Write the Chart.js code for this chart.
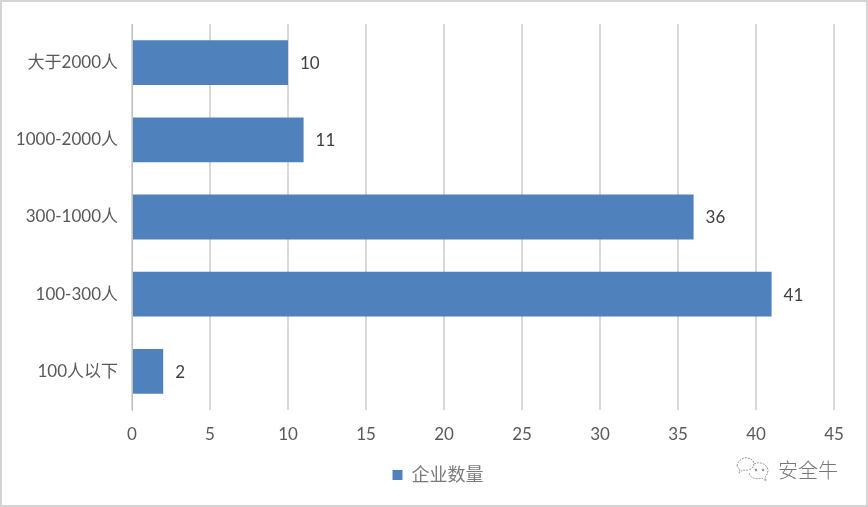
<!DOCTYPE html>
<html><head><meta charset="utf-8">
<script src="https://cdn.jsdelivr.net/npm/chart.js@4"></script>
<style>html,body{margin:0;padding:0;background:#fff}#w{position:relative;width:868px;height:507px;overflow:hidden}canvas{position:absolute;left:0;top:0}
#wm{position:absolute;left:778px;top:455px;font:300 20px/30px "Noto Sans CJK SC";color:#777;white-space:nowrap}
#ic{position:absolute;left:735px;top:456px}</style></head>
<body><div id="w"><canvas id="c" width="868" height="507"></canvas>
<svg id="ic" width="38" height="28" viewBox="0 0 38 28" fill="none" stroke="#999" stroke-width="1" stroke-dasharray="2 1"><path d="M2 10C3 4 8 1 13 2C18 3 20 7 18 11C16 14 11 15 8 14L4 17L5 13C3 12 2 11 2 10Z"/><path d="M19 8C25 5 32 8 33 14C33 18 31 20 30 21L31 25L27 22C22 24 15 22 14 17"/><circle cx="21" cy="14" r="1" fill="#777"/><circle cx="28" cy="14" r="1" fill="#777"/></svg>
<div id="wm">安全牛</div></div>
<script>
const categories=["大于2000人","1000-2000人","300-1000人","100-300人","100人以下"];
const seriesValues=[10,11,36,41,2];
const seriesName="企业数量";
const tickLabels=[0,5,10,15,20,25,30,35,40,45];
const font='Lato,"Noto Sans CJK SC"';
const labelPlugin={id:'lab',afterDatasetsDraw(ch){const c=ch.ctx;const m=ch.getDatasetMeta(0);c.save();c.font='17px '+font;c.fillStyle='#404040';c.textBaseline='middle';
m.data.forEach((b,i)=>c.fillText(seriesValues[i],b.x+12,b.y+1));c.restore();}};
const borderPlugin={id:'bd',afterLayout(ch){ch.scales.y.left=0;},beforeDraw(ch){const c=ch.ctx;c.save();c.strokeStyle='#d4d4d4';c.lineWidth=4;c.strokeRect(0,0,868,507);c.restore();}};
new Chart(document.getElementById('c'),{type:'bar',
data:{labels:categories,datasets:[{label:seriesName,data:seriesValues,backgroundColor:'#4f81bd',barPercentage:0.58,categoryPercentage:1}]},
plugins:[labelPlugin,borderPlugin],
options:{indexAxis:'y',responsive:false,animation:false,
layout:{padding:{left:42,right:34,top:24,bottom:13}},
scales:{x:{min:0,max:45,afterFit(s){s.height=46},afterBuildTicks(s){s.ticks=tickLabels.map(v=>({value:v}))},grid:{color:'#d9d9d9',lineWidth:2,drawTicks:false},border:{display:false},ticks:{color:'#595959',font:{size:17,family:font},padding:14,maxRotation:0}},
y:{afterFit(s){s.width=90},grid:{display:false},border:{color:'#bfbfbf'},ticks:{color:'#595959',font:{size:17,family:font},padding:6}}},
plugins:{legend:{position:'bottom',labels:{boxWidth:10,boxHeight:10,color:'#7a7a7a',font:{size:18,family:font}}},tooltip:{enabled:false}}}});
</script></body></html>
